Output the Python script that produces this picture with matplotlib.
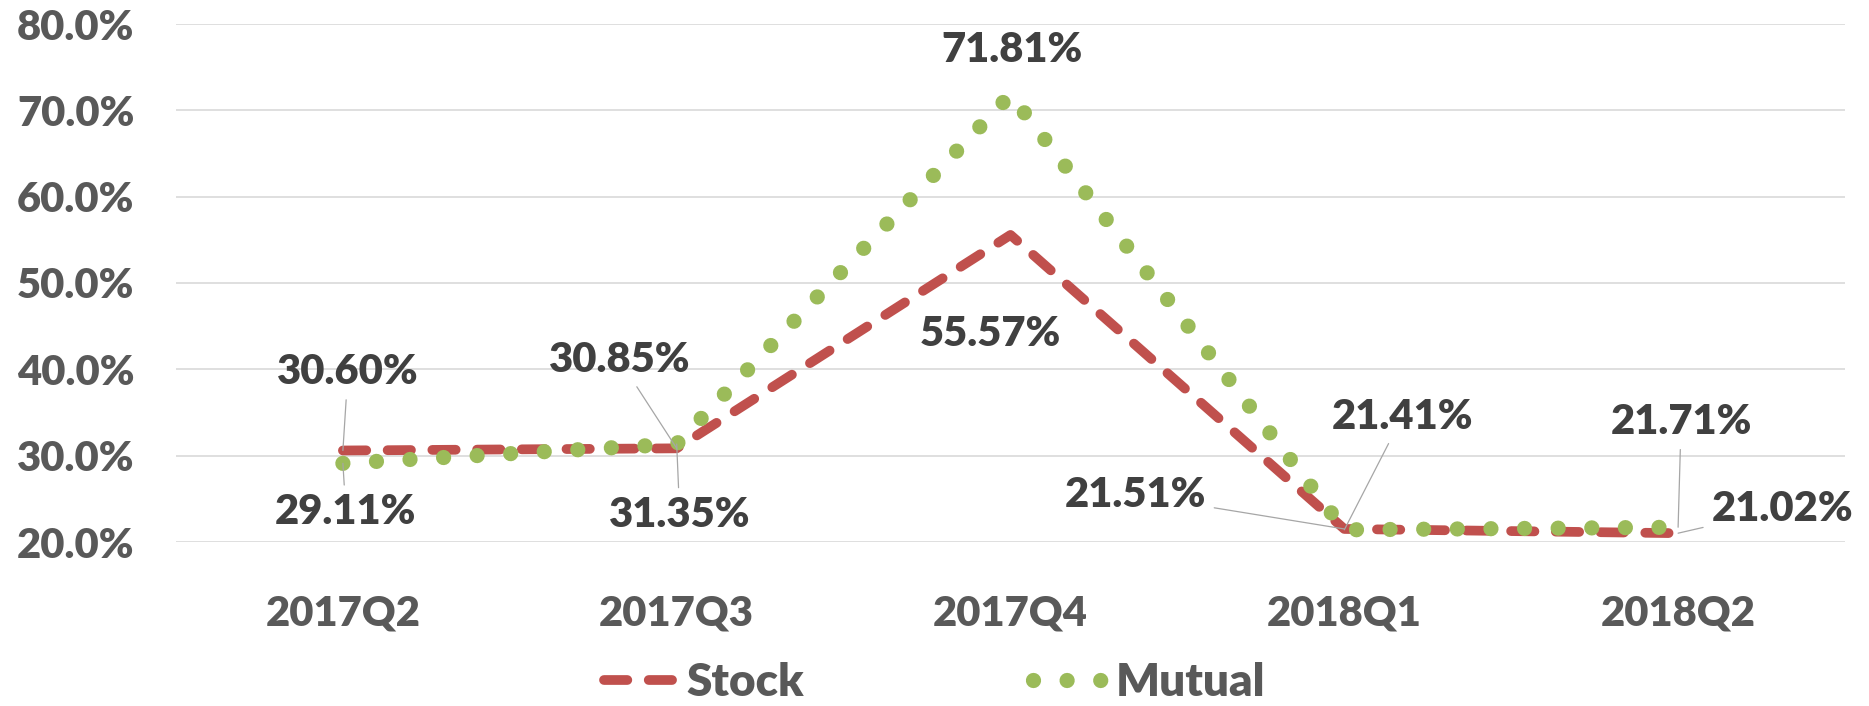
import matplotlib
matplotlib.use("Agg")
import matplotlib.pyplot as plt
import numpy as np

# data
quarters = ["2017Q2", "2017Q3", "2017Q4", "2018Q1", "2018Q2"]
stock = [30.60, 30.85, 55.57, 21.51, 21.02]
mutual = [29.11, 31.35, 71.81, 21.41, 21.71]

# label offsets (pixels) and whether a leader line is drawn
stock_off = [(5, 78), (-57, 88), (-20, -99), (-209, 34), (104, 24)]
stock_lead = [True, True, False, True, True]
mutual_off = [(3, -49), (3, -71), (1, 45), (58, 113), (3, 105)]
mutual_lead = [True, True, False, True, True]

plt.rcParams['font.family'] = ['Lato', 'DejaVu Sans']
plt.rcParams['font.weight'] = 'heavy'

fig = plt.figure(figsize=(18.69, 7.06), dpi=100)
ax = fig.add_axes([176/1869, 1-542/706, (1845-176)/1869, (542-24)/706])

x = np.arange(len(quarters))
red = '#C0504D'
green = '#9BBB59'

l1, = ax.plot(x, stock, color=red, lw=7, dashes=(2.4, 2.2),
              dash_capstyle='round', solid_capstyle='round', label='Stock', zorder=3)
l2, = ax.plot(x, mutual, color=green, lw=11, dashes=(0.0001, 2.2),
              dash_capstyle='round', label='Mutual', zorder=4)

def put_labels(vals, offs, leads):
    for xi, v, (dx, dy), lead in zip(x, vals, offs, leads):
        kw = {}
        if lead:
            kw['arrowprops'] = dict(arrowstyle='-', color='#A6A6A6', lw=0.9,
                                    shrinkA=4, shrinkB=0)
        ax.annotate(f"{v:.2f}%", (xi, v), xytext=(dx, dy), textcoords='offset pixels',
                    ha='center', va='center', fontsize=30, fontweight='heavy',
                    color='#404040', zorder=5, **kw)

put_labels(stock, stock_off, stock_lead)
put_labels(mutual, mutual_off, mutual_lead)

ax.set_xlim(-0.5, 4.5)
ax.set_ylim(20, 80)
ax.set_yticks(np.arange(20, 81, 10))
ax.set_yticklabels([f"{v:.1f}%" for v in np.arange(20, 81, 10)])
ax.set_xticks(x)
ax.set_xticklabels(quarters)
ax.tick_params(axis='y', length=0, pad=30, labelsize=30, labelcolor='#595959')
ax.tick_params(axis='x', length=0, pad=38, labelsize=30, labelcolor='#595959')
for lab in ax.get_xticklabels() + ax.get_yticklabels():
    lab.set_fontweight('heavy')

ax.grid(axis='y', color='#D9D9D9', lw=1.2)
ax.set_axisbelow(True)
for s in ax.spines.values():
    s.set_visible(False)

fig.legend(handles=[l1, l2], loc='center', bbox_to_anchor=(0.5, 1-683/706), ncol=2,
           frameon=False, labelcolor='#595959', columnspacing=5.0,
           handlelength=1.7, handletextpad=0.1, prop={'weight': 'heavy', 'size': 33})

fig.savefig("out.png", dpi=100)
